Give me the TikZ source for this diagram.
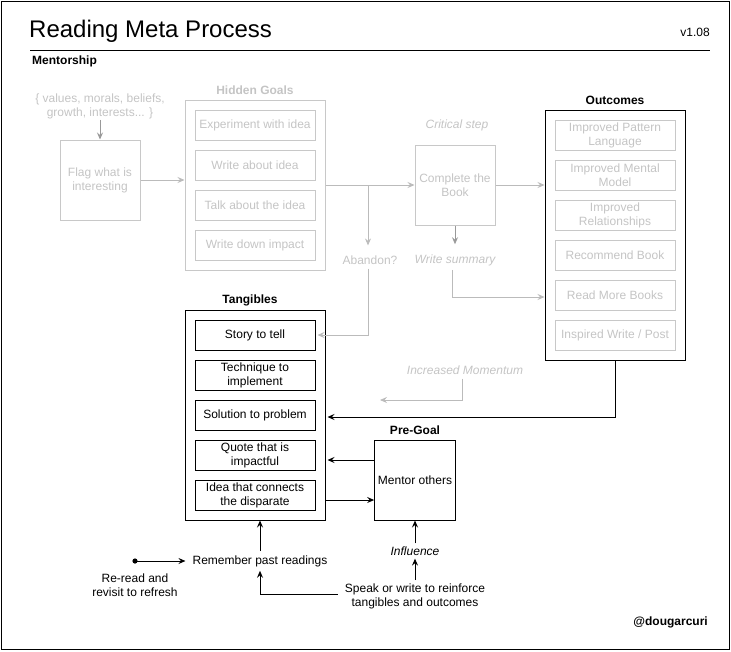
\documentclass[tikz,border=0pt]{standalone}
\usepackage{fontspec}
\setmainfont{Liberation Sans}
\usetikzlibrary{arrows.meta,calc}
\definecolor{lg}{HTML}{C8C8C8}
\definecolor{lgt}{HTML}{C4C4C4}
\definecolor{lga}{HTML}{BBBBBB}
\definecolor{dga}{HTML}{999999}
\tikzset{
  every node/.style={font=\fontsize{12}{14}\selectfont},
  box/.style={draw, rectangle, minimum width=120pt, minimum height=30pt, inner sep=1pt, align=center, line width=1pt},
  gbox/.style={box, draw=lg, text=lgt},
  bbox/.style={box, draw=black, text=black},
  sq/.style={draw, rectangle, minimum width=80pt, minimum height=80pt, align=center, line width=1pt},
  lbl/.style={inner sep=1pt, align=center},
  hdr/.style={inner sep=1pt, font=\fontsize{12}{14}\selectfont\bfseries},
  tip/.style={-{Stealth[length=7pt,width=6pt,inset=2.5pt]}},
  garr/.style={tip, draw=lga, line width=0.8pt},
  darr/.style={tip, draw=dga, line width=0.8pt},
  barr/.style={tip, draw=black, line width=1pt},
}
\begin{document}
\begin{tikzpicture}[x=1pt,y=-1pt]
\useasboundingbox (0,0) rectangle (731,651);
\draw[line width=1pt] (1,1) rectangle (729.5,649.5);
% title
\node[anchor=west, inner sep=0, font=\fontsize{24}{28}\selectfont] (title) at (29,31.5) {Reading Meta Process};
\node[anchor=east, inner sep=0] (ver) at (710,32) {v1.08};
\draw[line width=1pt] (30,50) coordinate (tl) -- (710,50) coordinate (tr);
\node[hdr, anchor=west] (ment) at (31,61) {Mentorship};
% left gray part
\node[lbl, text=lgt] (vals) at (100,106) {\{ values, morals, beliefs,\\growth, interests... \}};
\node[sq, draw=lg, text=lgt] (flag) at (100,180) {Flag what is\\interesting};
\node[draw=lg, line width=1pt, minimum width=140pt, minimum height=170pt] (hidden) at (255,185) {};
\node[hdr, text=lgt] (hgt) at (255,90) {Hidden Goals};
\node[gbox] (h1) at (255,125) {Experiment with idea};
\node[gbox] (h2) at (255,165) {Write about idea};
\node[gbox] (h3) at (255,205) {Talk about the idea};
\node[gbox] (h4) at (255,245) {Write down impact};
\node[sq, draw=lg, text=lgt] (complete) at (455,185) {Complete the\\Book};
\node[lbl, text=lgt, font=\fontsize{12}{14}\selectfont\itshape] (crit) at (457,125) {Critical step};
\node[lbl, text=lgt] (abandon) at (370,260) {Abandon?};
\node[lbl, text=lgt, font=\fontsize{12}{14}\selectfont\itshape] (wsum) at (455,260) {Write summary};
% outcomes
\node[draw=black, line width=1pt, minimum width=140pt, minimum height=250pt] (outcomes) at (615,235) {};
\node[hdr] (otit) at (615,100) {Outcomes};
\node[gbox] (o1) at (615,135) {Improved Pattern\\Language};
\node[gbox] (o2) at (615,175) {Improved Mental\\Model};
\node[gbox] (o3) at (615,215) {Improved\\Relationships};
\node[gbox] (o4) at (615,255) {Recommend Book};
\node[gbox] (o5) at (615,295) {Read More Books};
\node[gbox] (o6) at (615,335) {Inspired Write / Post};
\node[lbl, text=lgt, font=\fontsize{12}{14}\selectfont\itshape] (mom) at (465,370) {Increased Momentum};
% tangibles
\node[draw=black, line width=1pt, minimum width=140pt, minimum height=210pt] (tang) at (255,415) {};
\node[hdr] (ttit) at (250,300) {Tangibles};
\node[bbox] (t1) at (255,335) {Story to tell};
\node[bbox] (t2) at (255,375) {Technique to\\implement};
\node[bbox] (t3) at (255,415) {Solution to problem};
\node[bbox] (t4) at (255,455) {Quote that is\\impactful};
\node[bbox] (t5) at (255,495) {Idea that connects\\the disparate};
% pre-goal
\node[sq, draw=black] (mentor) at (415,480) {Mentor others};
\node[hdr] (ptit) at (415,430) {Pre-Goal};
\node[lbl, font=\fontsize{12}{14}\selectfont\itshape] (infl) at (415,551) {Influence};
\node[lbl] (speak) at (415,596) {Speak or write to reinforce\\tangibles and outcomes};
\node[lbl] (remember) at (260,561) {Remember past readings};
\node[lbl] (reread) at (135,585) {Re-read and\\revisit to refresh};
\coordinate (dot) at (135,561);
\node[hdr, anchor=east] (doug) at (709,622) {@dougarcuri};
% gray connectors
\draw[darr] (vals.south) -- (flag.north);
\draw[garr] (flag.east) -- (flag.east -| hidden.west);
\coordinate (br) at (368,185);
\draw[garr] (hidden.east |- complete.west) -- (complete.west);
\draw[garr] (br) -- ([yshift=9pt]abandon.north -| br);
\draw[garr] ([yshift=-3pt]abandon.south -| br) |- ([xshift=2pt]t1.east);
\draw[garr] (complete.east) -- (complete.east -| outcomes.west);
\draw[darr] (complete.south) -- ([yshift=9pt]wsum.north -| complete.south);
\draw[garr] ([xshift=-3pt,yshift=-3pt]wsum.south) |- ([yshift=-2pt]outcomes.west |- o5);
\coordinate (momend) at (380,400);
\draw[garr] ([xshift=-3pt,yshift=-3pt]mom.south) |- (momend);
% black connectors
\draw[barr] (outcomes.south) |- ([xshift=2pt,yshift=-2pt]tang.east |- t3);
\draw[barr] ($(mentor.west)+(0,-20)$) -- ($(tang.east |- mentor.west)+(2,-20)$);
\draw[barr] ($(tang.east |- mentor.west)+(0,20)$) -- ($(mentor.west)+(0,20)$);
\draw[barr] ([yshift=3pt]remember.north) -- (remember.north |- tang.south);
\fill (dot) circle (2.6pt);
\draw[barr] (dot) -- ([xshift=-6pt]remember.west);
\draw[barr] ([xshift=-6pt,yshift=2pt]speak.west) -| ([yshift=-3pt]remember.south);
\draw[barr] ([yshift=2pt]speak.north) -- ([yshift=-2pt]infl.south);
\draw[barr] ([yshift=2pt]infl.north) -- (mentor.south);
\end{tikzpicture}
\end{document}
